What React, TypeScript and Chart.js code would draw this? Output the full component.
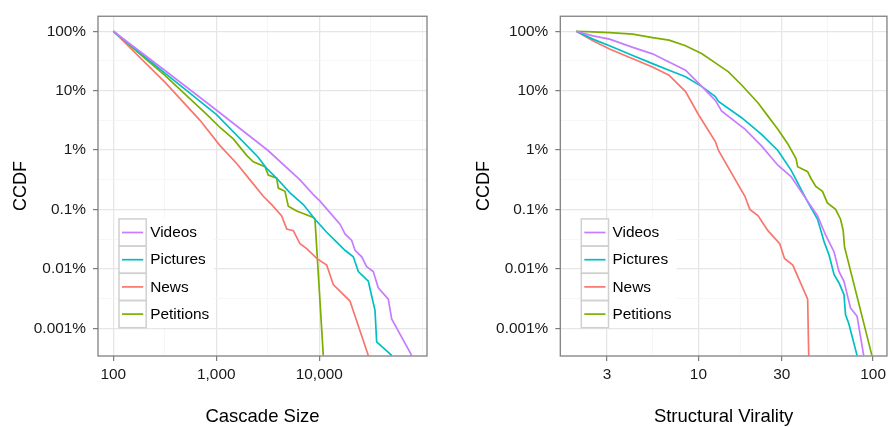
import React, { useEffect, useRef } from 'react';
import { Chart, registerables } from 'chart.js';

Chart.register(...registerables);

const seriesLabels = ['Videos', 'Pictures', 'News', 'Petitions'];
const seriesColors = ['#C77CFF', '#00BFC4', '#F8766D', '#7CAE00'];

// y axis (CCDF, percent)
const yMajor = [100, 10, 1, 0.1, 0.01, 0.001];
const yMajorLabels = ['100%', '10%', '1%', '0.1%', '0.01%', '0.001%'];
const yMinor = [31.62, 3.162, 0.3162, 0.03162, 0.003162];

// Left panel: Cascade Size
const sizeMajor = [100, 1000, 10000];
const sizeMajorLabels = ['100', '1,000', '10,000'];
const sizeMinor = [316.2, 3162, 31623, 100000];

const sizeVideosX = [100, 315, 1000, 3180, 6500, 8750, 10160, 12700, 15900, 17780, 20650, 22250, 25830, 28860, 33440, 37400, 46800, 50470, 78900];
const sizeVideosY = [100, 22.1, 4.72, 0.984, 0.315, 0.178, 0.138, 0.0885, 0.0567, 0.0388, 0.0301, 0.0206, 0.016, 0.0109, 0.009, 0.0048, 0.0031, 0.00144, 0.00035];

const sizePicturesX = [100, 315, 1000, 2540, 3085, 3856, 5200, 7000, 9080, 11800, 14760, 17780, 21400, 23930, 29930, 32290, 34770, 36080, 50470];
const sizePicturesY = [100, 19.9, 3.98, 0.766, 0.491, 0.336, 0.19, 0.121, 0.0686, 0.0414, 0.0282, 0.0206, 0.016, 0.009, 0.0062, 0.0035, 0.002, 0.00059, 0.00035];

const sizeNewsX = [100, 315, 695, 1086, 1578, 2125, 2860, 3450, 4316, 4830, 5600, 6500, 7550, 9440, 11800, 13680, 19860, 29930];
const sizeNewsY = [100, 14.1, 3.17, 1.19, 0.594, 0.315, 0.167, 0.121, 0.0781, 0.0469, 0.0441, 0.0265, 0.0219, 0.015, 0.0116, 0.00545, 0.00288, 0.00035];

const sizePetitionsX = [100, 315, 807, 1086, 1462, 1972, 2286, 2971, 3199, 3856, 3999, 4645, 5000, 6036, 8750, 9080, 10940];
const sizePetitionsY = [100, 18.2, 3.98, 2.4, 1.54, 0.814, 0.633, 0.524, 0.38, 0.336, 0.229, 0.202, 0.114, 0.0944, 0.0732, 0.0686, 0.00035];

// Right panel: Structural Virality
const viralMajor = [3, 10, 30, 100];
const viralMajorLabels = ['3', '10', '30', '100'];
const viralMinor = [5.477, 17.32, 54.77];

const viralVideosX = [2, 2.49, 3.1, 4.21, 5.46, 6.79, 8.44, 10.48, 12.5, 13.6, 18.46, 22.9, 28.5, 33.9, 42.2, 48.1, 53.6, 59.8, 63.8, 68.1, 74.2, 80.9, 88.3];
const viralVideosY = [100, 83.6, 73.8, 53.6, 41.7, 30.3, 22.1, 11.7, 6.86, 4.52, 2.25, 1.19, 0.556, 0.358, 0.138, 0.0781, 0.0365, 0.0193, 0.009, 0.0062, 0.0022, 0.0016, 0.00035];

const viralPicturesX = [2, 2.49, 3.1, 4.21, 5.46, 6.79, 8.44, 10.48, 12.5, 13.03, 17.67, 22.9, 28.5, 33.9, 42.2, 48.1, 52.5, 56.0, 59.8, 63.8, 68.1, 69.5, 72.6, 80.9];
const viralPicturesY = [100, 73.8, 57.1, 39.1, 28.5, 22.1, 17.1, 11.7, 7.98, 6.6, 3.51, 1.86, 0.984, 0.46, 0.1346, 0.0686, 0.0282, 0.017, 0.008, 0.0058, 0.0037, 0.0017, 0.00119, 0.00035];

const viralNewsX = [2, 2.49, 3.1, 4.21, 5.46, 6.79, 8.44, 10, 12.5, 13.03, 15.5, 18.46, 19.7, 21.97, 25.0, 29.2, 31.1, 34.7, 42.2, 42.8];
const viralNewsY = [100, 69.2, 50.4, 34.4, 25.0, 18.2, 9.66, 3.98, 1.39, 0.984, 0.406, 0.167, 0.1005, 0.0781, 0.0441, 0.0265, 0.015, 0.0116, 0.0031, 0.00035];

const viralPetitionsX = [2, 2.49, 3.1, 4.21, 5.46, 6.79, 8.44, 10.48, 12.5, 14.86, 17.67, 21.97, 25.0, 28.5, 32.5, 36.2, 37.0, 42.2, 44.0, 47.0, 51.3, 54.7, 61.0, 65.1, 67.4, 68.6, 98.4];
const viralPetitionsY = [100, 97.3, 94.8, 89.2, 78.4, 71.0, 57.1, 41.7, 29.4, 20.7, 12.47, 6.21, 3.73, 2.25, 1.27, 0.718, 0.524, 0.433, 0.336, 0.245, 0.202, 0.129, 0.1005, 0.0686, 0.0441, 0.0234, 0.00035];

const FONT = "'Liberation Sans', Arial, Helvetica, sans-serif";

const zip = (xs: number[], ys: number[]) => xs.map((x, i) => ({ x, y: ys[i] }));
const near = (a: number, b: number) => Math.abs(Math.log10(a) - Math.log10(b)) < 1e-3;

const borderPlugin = {
  id: 'panelBorder',
  afterDraw(chart: any) {
    const { ctx, chartArea: a } = chart;
    ctx.save();
    ctx.strokeStyle = '#808080';
    ctx.lineWidth = 1.3;
    ctx.strokeRect(a.left, a.top, a.right - a.left, a.bottom - a.top);
    ctx.restore();
  },
};

const legendPlugin = {
  id: 'insetLegend',
  afterDatasetsDraw(chart: any) {
    const { ctx, chartArea: a } = chart;
    const key = 27.2;
    const n = chart.data.datasets.length;
    const x0 = a.left + 21;
    const y0 = a.bottom - 28.3 - key * n;
    ctx.save();
    ctx.font = `15.4px ${FONT}`;
    let maxW = 0;
    chart.data.datasets.forEach((d: any) => {
      maxW = Math.max(maxW, ctx.measureText(d.label).width);
    });
    ctx.fillStyle = '#ffffff';
    ctx.fillRect(x0, y0, key + 4 + maxW + 5, key * n);
    chart.data.datasets.forEach((d: any, i: number) => {
      const y = y0 + i * key;
      ctx.strokeStyle = '#d0d0d0';
      ctx.lineWidth = 1.5;
      ctx.strokeRect(x0, y, key, key);
      ctx.strokeStyle = d.borderColor;
      ctx.lineWidth = 1.7;
      ctx.beginPath();
      ctx.moveTo(x0 + 3, y + key / 2);
      ctx.lineTo(x0 + key - 3, y + key / 2);
      ctx.stroke();
      ctx.fillStyle = '#000000';
      ctx.textBaseline = 'middle';
      ctx.textAlign = 'left';
      ctx.fillText(d.label, x0 + key + 4, y + key / 2 + 0.5);
    });
    ctx.restore();
  },
};

type PanelCfg = {
  width: number;
  padRight: number;
  yAxisWidth: number;
  yTitlePad: number;
  xTitle: string;
  xMin: number;
  xMax: number;
  xMajor: number[];
  xMajorLabels: string[];
  xMinor: number[];
  xs: number[][];
  ys: number[][];
};

function makeScaleTicks(major: number[], minor: number[]) {
  return (scale: any) => {
    const all = [...major.map((v) => ({ value: v, major: true })), ...minor.map((v) => ({ value: v, major: false }))];
    all.sort((p, q) => p.value - q.value);
    scale.ticks = all.filter((t) => t.value >= scale.min && t.value <= scale.max);
  };
}

function isMajorIn(list: number[], v: number) {
  return list.some((m) => near(m, v));
}

function Panel({ cfg, left }: { cfg: PanelCfg; left: number }) {
  const ref = useRef<HTMLCanvasElement | null>(null);
  useEffect(() => {
    if (!ref.current) return;
    const chart = new Chart(ref.current, {
      type: 'scatter',
      data: {
        datasets: seriesLabels.map((label, i) => ({
          label,
          data: zip(cfg.xs[i], cfg.ys[i]),
          showLine: true,
          borderColor: seriesColors[i],
          backgroundColor: seriesColors[i],
          borderWidth: 1.7,
          pointRadius: 0,
          pointHoverRadius: 0,
          tension: 0,
        })),
      },
      options: {
        responsive: false,
        animation: false,
        events: [],
        layout: { padding: { left: 0, right: cfg.padRight, top: 10, bottom: 0 } },
        plugins: {
          legend: { display: false },
          tooltip: { enabled: false },
        },
        scales: {
          x: {
            type: 'logarithmic',
            min: cfg.xMin,
            max: cfg.xMax,
            bounds: 'data',
            afterBuildTicks: makeScaleTicks(cfg.xMajor, cfg.xMinor),
            afterFit: (s: any) => {
              s.height = 71;
            },
            ticks: {
              autoSkip: false,
              maxRotation: 0,
              padding: 5,
              color: '#1a1a1a',
              font: { family: FONT, size: 15.4 },
              callback: (v: any) => {
                const idx = cfg.xMajor.findIndex((m) => near(m, Number(v)));
                return idx >= 0 ? cfg.xMajorLabels[idx] : '';
              },
            },
            grid: {
              color: (c: any) => (c.tick && isMajorIn(cfg.xMajor, c.tick.value) ? '#e6e6e6' : '#f4f4f4'),
              lineWidth: (c: any) => (c.tick && isMajorIn(cfg.xMajor, c.tick.value) ? 1.3 : 0.8),
              tickColor: (c: any) => (c.tick && isMajorIn(cfg.xMajor, c.tick.value) ? '#707070' : 'rgba(0,0,0,0)'),
              tickLength: 5,
              tickWidth: 1.1,
            },
            border: { display: false },
            title: {
              display: true,
              text: cfg.xTitle,
              color: '#000000',
              font: { family: FONT, size: 18.5, lineHeight: 1 },
              padding: { top: 0, bottom: 1 },
            },
          },
          y: {
            type: 'logarithmic',
            min: 0.000342,
            max: 179,
            bounds: 'data',
            afterBuildTicks: makeScaleTicks(yMajor, yMinor),
            afterFit: (s: any) => {
              s.width = cfg.yAxisWidth;
            },
            ticks: {
              autoSkip: false,
              padding: 7,
              color: '#1a1a1a',
              font: { family: FONT, size: 15.4 },
              callback: (v: any) => {
                const idx = yMajor.findIndex((m) => near(m, Number(v)));
                return idx >= 0 ? yMajorLabels[idx] : '';
              },
            },
            grid: {
              color: (c: any) => (c.tick && isMajorIn(yMajor, c.tick.value) ? '#e6e6e6' : '#f4f4f4'),
              lineWidth: (c: any) => (c.tick && isMajorIn(yMajor, c.tick.value) ? 1.3 : 0.8),
              tickColor: (c: any) => (c.tick && isMajorIn(yMajor, c.tick.value) ? '#707070' : 'rgba(0,0,0,0)'),
              tickLength: 5,
              tickWidth: 1.1,
            },
            border: { display: false },
            title: {
              display: true,
              text: 'CCDF',
              color: '#000000',
              font: { family: FONT, size: 18, lineHeight: 1 },
              padding: { top: cfg.yTitlePad, bottom: 0 },
            },
          },
        },
      } as any,
      plugins: [legendPlugin, borderPlugin],
    });
    return () => chart.destroy();
  }, [cfg]);
  return (
    <canvas
      ref={ref}
      width={cfg.width}
      height={427}
      style={{ position: 'absolute', left, top: 0, width: cfg.width, height: 427 }}
    />
  );
}

const leftCfg: PanelCfg = {
  width: 445,
  padRight: 18,
  yAxisWidth: 98,
  yTitlePad: 12,
  xTitle: 'Cascade Size',
  xMin: 71,
  xMax: 111200,
  xMajor: sizeMajor,
  xMajorLabels: sizeMajorLabels,
  xMinor: sizeMinor,
  xs: [sizeVideosX, sizePicturesX, sizeNewsX, sizePetitionsX],
  ys: [sizeVideosY, sizePicturesY, sizeNewsY, sizePetitionsY],
};

const rightCfg: PanelCfg = {
  width: 446,
  padRight: 1,
  yAxisWidth: 115.3,
  yTitlePad: 29.7,
  xTitle: 'Structural Virality',
  xMin: 1.62,
  xMax: 120,
  xMajor: viralMajor,
  xMajorLabels: viralMajorLabels,
  xMinor: viralMinor,
  xs: [viralVideosX, viralPicturesX, viralNewsX, viralPetitionsX],
  ys: [viralVideosY, viralPicturesY, viralNewsY, viralPetitionsY],
};

export default function App() {
  return (
    <div style={{ position: 'absolute', left: 0, top: 0, width: 891, height: 427, background: '#ffffff', overflow: 'hidden' }}>
      <Panel cfg={leftCfg} left={0} />
      <Panel cfg={rightCfg} left={445} />
    </div>
  );
}
